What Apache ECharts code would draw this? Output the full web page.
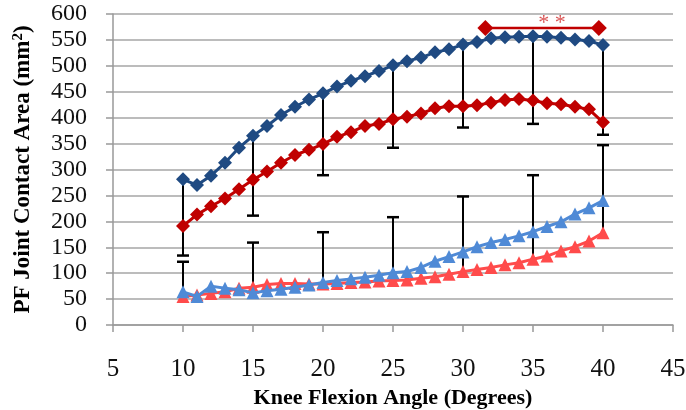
<!DOCTYPE html>
<html><head><meta charset="utf-8">
<script src="https://cdn.jsdelivr.net/npm/echarts@6/dist/echarts.min.js"></script>
<style>html,body{margin:0;padding:0;background:#fff}#c{width:686px;height:410px}</style>
</head><body><div id="c"></div>
<script>
var angles = [10,11,12,13,14,15,16,17,18,19,20,21,22,23,24,25,26,27,28,29,30,31,32,33,34,35,36,37,38,39,40];
var darkBlue = [281,270,288,313,342,365,384,405,421,435,447,460,471,480,490,501,509,516,526,532,541,546,553,555,556,557,556,554,551,548,540];
var darkRed = [191,213,229,244,262,280,296,313,328,338,349,363,372,384,388,397,402,408,418,422,422,424,429,434,436,433,428,426,421,416,391];
var lightBlue = [64,55,75,71,68,62,66,69,73,77,82,86,89,92,96,101,103,111,123,132,141,151,159,165,172,180,190,199,214,226,240];
var lightRed = [55,58,61,64,71,73,78,80,80,79,79,80,82,83,85,86,87,90,93,98,103,107,111,116,120,127,133,143,151,162,178];
var errAngles = [10,15,20,25,30,35,40];
var darkLow = [134,211,289,342,381,388,367];
var lightHigh = [122,159,179,208,248,289,347];
var sigStart = 31.6, sigEnd = 39.7, sigLevel = 573, sigText = '* *';
var xTicks = [5,45,5];
var yTicks = [0,600,50];

function pairs(xs, ys){ return xs.map(function(x,i){ return [x, ys[i]]; }); }
function valAt(arr, x){ return arr[angles.indexOf(x)]; }
var errData = [];
errAngles.forEach(function(x,i){
  errData.push([x, valAt(darkBlue,x), darkLow[i], 0]);
  errData.push([x, valAt(lightRed,x), lightHigh[i], 1]);
});

var chart = echarts.init(document.getElementById('c'));
var serif = 'Liberation Serif';
chart.setOption({
  animation:false,
  grid:{left:113,right:13,top:14,bottom:85,containLabel:false,outerBoundsMode:'none'},
  xAxis:{type:'value',min:xTicks[0],max:xTicks[1],interval:xTicks[2],
    name:'Knee Flexion Angle (Degrees)',nameLocation:'middle',nameGap:59,
    nameTextStyle:{fontFamily:serif,fontWeight:'bold',fontSize:22,color:'#000'},
    axisLine:{lineStyle:{color:'#999',width:1.5}},
    axisTick:{show:true,length:7,lineStyle:{color:'#999',width:1.5}},
    axisLabel:{fontFamily:serif,fontSize:25,color:'#111',margin:32},
    splitLine:{show:false}},
  yAxis:{type:'value',min:yTicks[0],max:yTicks[1],interval:yTicks[2],
    name:'{t|PF Joint Contact Area (mm}{s|2}{t|)}',nameLocation:'middle',nameGap:77,
    nameTextStyle:{rich:{t:{fontFamily:serif,fontWeight:'bold',fontSize:23,color:'#000'},
      s:{fontFamily:serif,fontWeight:'bold',fontSize:15,color:'#000',verticalAlign:'top',padding:[0,0,10,0]}}},
    axisLine:{show:true,lineStyle:{color:'#999',width:1.5}},
    axisTick:{show:true,length:7,lineStyle:{color:'#999',width:1.5}},
    axisLabel:{fontFamily:serif,fontSize:24,color:'#111',margin:26},
    splitLine:{lineStyle:{color:'#A6A6A6',width:1.5}}},
  series:[
    {type:'custom',z:1,data:errData,
      renderItem:function(params,api){
        var x=api.value(0), a=api.value(1), b=api.value(2);
        var p1=api.coord([x,a]), p2=api.coord([x,b]);
        return {type:'group',children:[
          {type:'line',shape:{x1:p1[0],y1:p1[1],x2:p2[0],y2:p2[1]},style:{stroke:'#000',lineWidth:2}},
          {type:'line',shape:{x1:p2[0]-6,y1:p2[1],x2:p2[0]+6,y2:p2[1]},style:{stroke:'#000',lineWidth:2.5}}
        ]};
      }},
    {type:'line',z:2,data:pairs(angles,lightRed),symbol:'triangle',symbolSize:13,
      lineStyle:{color:'#FF4B4B',width:3},itemStyle:{color:'#FF4B4B'}},
    {type:'line',z:3,data:pairs(angles,lightBlue),symbol:'triangle',symbolSize:13,
      lineStyle:{color:'#4F8AD6',width:3},itemStyle:{color:'#4F8AD6'}},
    {type:'line',z:4,data:pairs(angles,darkRed),symbol:'diamond',symbolSize:14,
      lineStyle:{color:'#C00000',width:3},itemStyle:{color:'#C00000'}},
    {type:'line',z:5,data:pairs(angles,darkBlue),symbol:'diamond',symbolSize:14,
      lineStyle:{color:'#1F4A82',width:3},itemStyle:{color:'#1F4A82'}},
    {type:'line',z:6,data:[[sigStart,sigLevel],[sigEnd,sigLevel]],symbol:'diamond',symbolSize:16,
      lineStyle:{color:'#C00000',width:2.5},itemStyle:{color:'#C00000'}},
    {type:'scatter',z:7,symbolSize:1,itemStyle:{color:'rgba(0,0,0,0)'},
      data:[[(sigStart+sigEnd)/2+0.7,sigLevel]],
      label:{show:true,position:'top',distance:-7,formatter:sigText,fontFamily:serif,fontSize:22,color:'#D02828'}}
  ]
});
</script></body></html>
